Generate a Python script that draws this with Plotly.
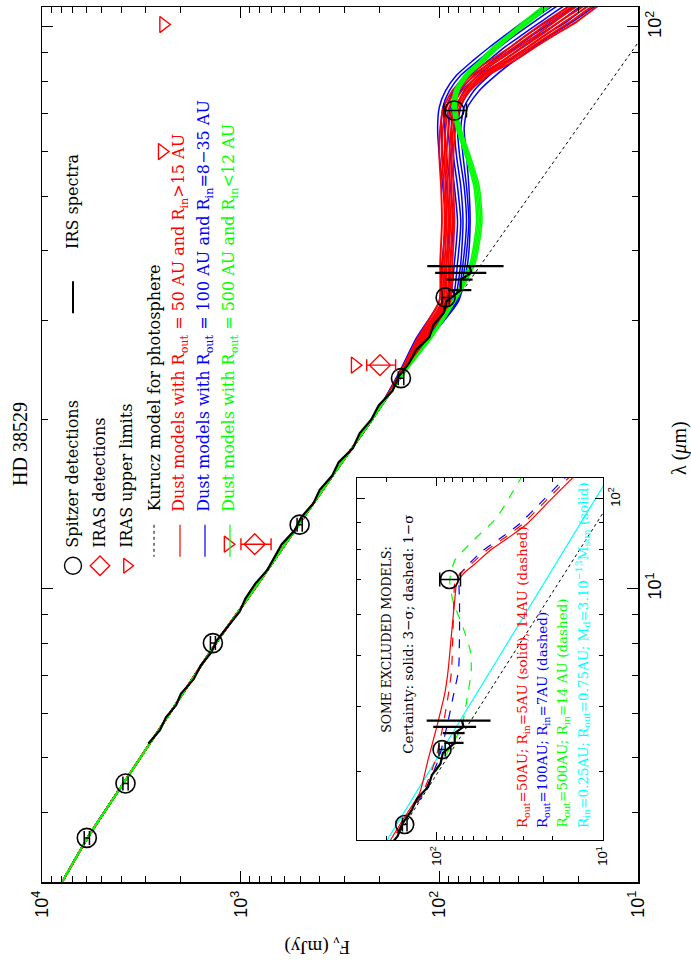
import plotly.graph_objects as go

# ---------------- data ----------------
# Kurucz photosphere
phot_lam = [3.0, 3.6, 4.5, 5.8, 8.0, 10, 13, 16, 20, 24, 30, 35, 40, 50, 60, 70, 80, 90, 100, 110, 120]
phot_F = [7940, 5900, 3900, 2420, 1330, 850, 510, 340, 218, 152, 97.5, 71.5, 55, 35.2, 24.5, 18, 13.8, 10.9, 8.8, 7.3, 6.1]

# dust models: common short-wavelength part (photospheric) + individual long-wavelength part
model_lam_short = [3.0, 3.6, 4.5, 5.8, 8.0, 10, 13, 16, 20]
model_F_short = [7940, 5900, 3900, 2420, 1330, 850, 510, 340, 218]
model_lam_long = [24, 28, 32.5, 38, 45, 52, 59, 66, 72, 77, 82, 87, 92, 97, 102, 108, 115]

red_models = [
    [160, 128, 100, 99, 97, 98, 100, 99, 95, 86, 72, 56, 44, 36, 29.5, 23, 17.5],
    [158, 125, 97, 96, 94, 95, 97, 96, 92, 83, 69, 53, 42, 34, 28, 22, 16.5],
    [157, 123, 95, 94, 92, 93, 94, 93, 89, 80, 66, 51, 40, 32, 26.5, 21, 15.5],
    [156, 121, 93, 92, 90, 91, 92, 90, 86, 77, 63, 48, 38, 30.5, 25, 19.5, 14.5],
    [155, 119, 91, 90, 88, 89, 89, 87, 83, 74, 61, 46, 36, 29, 23.5, 18.5, 14],
    [155, 118, 89, 88, 86, 87, 87, 85, 81, 72, 59, 44, 34.5, 27.5, 22, 17.5, 13],
    [154, 116, 88, 86, 84, 85, 85, 83, 79, 70, 57, 42, 33, 26, 20.5, 16.5, 12.5],
]
blue_models = [
    [162, 130, 100, 97, 93, 96, 100, 102, 100, 93, 82, 68, 56, 46, 38, 30, 23],
    [160, 126, 96, 92, 89, 92, 96, 98, 96, 89, 78, 64, 53, 43, 35.5, 28, 21.5],
    [158, 122, 92, 88, 85, 88, 92, 94, 92, 85, 74, 61, 50, 41, 33.5, 26.5, 20],
    [157, 119, 89, 84, 81, 84, 88, 90, 88, 81, 70, 57, 47, 38, 31, 24.5, 18.5],
    [156, 117, 86, 81, 78, 81, 85, 87, 85, 78, 67, 54, 44, 36, 29, 23, 17.5],
    [155, 115, 84, 78, 76, 78, 82, 84, 82, 75, 64, 51, 41, 33.5, 27, 21.5, 16.5],
    [154, 113, 82, 76, 73, 75, 79, 81, 78, 71, 60, 48, 38.5, 31, 25, 20, 15],
    [154, 112, 81, 74, 71, 73, 76, 78, 75, 67, 56, 45, 36, 29, 23, 18.5, 14],
    [153, 111, 80, 72, 70, 71, 73, 75, 72, 63, 52, 42, 33.5, 27, 21.5, 17, 13],
]
green_models = [
    [154, 112, 86, 70, 65, 67, 74, 82, 86, 84, 75, 63, 54, 45, 38, 31, 25],
    [154, 111, 85, 69, 64, 66, 73, 81, 85, 83, 74, 62, 53, 44, 37, 30, 24],
    [153, 110, 84, 68, 63, 65, 72, 80, 84, 82, 73, 61, 52, 43, 36, 29.5, 23.5],
    [153, 110, 84, 67, 62, 64, 71, 79, 83, 81, 72, 60, 51, 42.5, 35.5, 29, 23],
    [153, 109, 83, 66, 61, 63, 70, 78, 82, 80, 71, 59, 50, 42, 35, 28.5, 22.5],
]

# IRS spectrum
irs_lam = [5.3, 5.6, 5.9, 6.2, 6.5, 6.9, 7.3, 7.7, 8.1, 8.6, 9.1, 9.6, 10.2, 10.8, 11.4, 12.0,
           12.7, 13.4, 14.2, 15.0, 15.9, 16.8, 17.8, 18.9, 20.0, 21.2, 22.5, 23.8, 25.2, 26.6,
           28.0, 29.5, 31.0, 32.5, 34.0, 35.5, 36.5, 37.5]
irs_F = [2914, 2548, 2378, 2113, 2001, 1724, 1588, 1406, 1316, 1151, 1012, 947, 846, 734, 674, 621,
         535, 496, 430, 400, 346, 321, 272, 252, 220, 202, 172, 161, 142, 131,
         112.5, 107, 95, 92, 78, 78, 69, 70.5]
irs_tail_lam = [34.0, 35.5, 36.5, 37.5]
irs_tail_F = [78, 78, 69, 70.5]
irs_tail_err_hi = [12, 14, 36, 44.5]
irs_tail_err_lo = [9, 10, 11, 23]

# Spitzer photometry
sp_lam = [3.6, 4.5, 8.0, 13.0, 23.7, 33.0, 71.0]
sp_F = [5950, 3800, 1380, 505, 156, 93, 84]
sp_err = [180, 115, 40, 15, 5, 4, 11]

# IRAS
iras_lam = [12.0, 25.0]
iras_F = [850, 199]
iras_err = [147, 33]
iras_ul_lam = [12.0, 25.0, 60.0, 101.0]
iras_ul_F = [1160, 266, 2490, 2450]

# inset: excluded models
inset_lam = [20, 22, 24.2, 27.2, 31.5, 36.5, 42.3, 46.8, 55.1, 63.8, 68.7, 71.7, 75, 79.5, 84, 89.4, 100, 110, 115]
red_solid_F = [235, 192, 160, 127, 113, 100, 89.5, 85.5, 81.5, 78, 76, 69.5, 59, 48, 37.5, 28.8, 20.4, 15.1, 13.2]
red_dashed_F = [230, 188, 156, 122, 102, 92, 85, 81.5, 80, 79, 78, 73, 62, 50.5, 39.5, 30.5, 21.5, 16, 14]
blue_dashed_F = [228, 186, 155, 120, 98, 87, 79, 74, 73, 73, 73.5, 72, 64, 53, 41.5, 32, 22.5, 16.8, 14.6]
green_dashed_lam = [20, 22, 24.2, 27.2, 31.5, 36.5, 42.3, 46.8, 51.2, 56.6, 63.8, 69.6, 76.1, 83.1, 92.1, 100, 110, 115]
green_dashed_F = [225, 184, 154, 122, 92, 71, 65, 62, 63, 69.5, 80, 83.5, 78, 60.4, 43.6, 37, 30.9, 27.5]
cyan_lam = [20, 22, 30, 40, 50, 60, 70, 80, 90, 100, 110, 115]
cyan_F = [245, 201, 111, 64, 41.7, 29.4, 21.9, 16.9, 13.5, 11.0, 9.2, 8.5]

inset_sp_lam = [23.7, 33.0, 70.0]
inset_sp_F = [156, 93, 84]
inset_sp_err = [5, 4, 12]

# axis ticks
main_F_ticks = [10, 100, 1000, 10000]
main_F_ticktext = ["10<sup>1</sup>", "10<sup>2</sup>", "10<sup>3</sup>", "10<sup>4</sup>"]
main_lam_ticks = [10, 100]
main_lam_ticktext = ["10<sup>1</sup>", "10<sup>2</sup>"]
inset_F_ticks = [10, 100]
inset_F_ticktext = ["10<sup>1</sup>", "10<sup>2</sup>"]
inset_lam_ticks = [100]
inset_lam_ticktext = ["10<sup>2</sup>"]

# ---------------- layout helpers ----------------
FW, FH = 691, 961
L, R, T, B = 42, 638, 5, 882


def px(x):
    return (x - L) / (R - L)


def py(y):
    return (B - y) / (B - T)


RED, BLUE, GREEN, CYAN = "#ff0000", "#0000ff", "#00ff00", "#00ffff"
SERIF = "DejaVu Serif"
TSERIF = "Liberation Serif"
SANS = "Liberation Sans"


def minor_decades(lo, hi):
    return [m * 10 ** e for e in range(lo, hi) for m in range(2, 10)]


fig = go.Figure()

# ---------------- main panel ----------------
fig.add_trace(go.Scatter(x=phot_F, y=phot_lam, mode="lines",
                         line=dict(color="black", width=1, dash="dot"), xaxis="x", yaxis="y"))
lam_models = model_lam_short + model_lam_long
for fam, col, w in ((blue_models, BLUE, 1.5), (red_models, RED, 1.9), (green_models, GREEN, 1.5)):
    for curve in fam:
        fig.add_trace(go.Scatter(x=model_F_short + curve, y=lam_models, mode="lines",
                                 line=dict(color=col, width=w, shape="spline", smoothing=0.6),
                                 xaxis="x", yaxis="y"))
fig.add_trace(go.Scatter(x=irs_F, y=irs_lam, mode="lines", line=dict(color="black", width=2.2),
                         xaxis="x", yaxis="y"))
fig.add_trace(go.Scatter(x=irs_tail_F, y=irs_tail_lam, mode="markers",
                         marker=dict(size=2, color="black"),
                         error_x=dict(type="data", symmetric=False, array=irs_tail_err_hi,
                                      arrayminus=irs_tail_err_lo, color="black", thickness=2.2, width=0),
                         xaxis="x", yaxis="y"))
fig.add_trace(go.Scatter(x=sp_F, y=sp_lam, mode="markers",
                         marker=dict(symbol="circle-open", size=19, color="black", line=dict(width=1.6)),
                         error_x=dict(type="data", array=sp_err, color="black", thickness=1.5, width=7),
                         xaxis="x", yaxis="y"))
fig.add_trace(go.Scatter(x=iras_F, y=iras_lam, mode="markers",
                         marker=dict(symbol="diamond-open", size=16, color=RED, line=dict(width=1.4)),
                         error_x=dict(type="data", array=iras_err, color=RED, thickness=1.4, width=6),
                         xaxis="x", yaxis="y"))
fig.add_trace(go.Scatter(x=iras_ul_F, y=iras_ul_lam, mode="markers",
                         marker=dict(symbol="triangle-right-open", size=14, color=RED, line=dict(width=1.4)),
                         xaxis="x", yaxis="y"))

# ---------------- inset ----------------
fig.add_trace(go.Scatter(x=phot_F, y=phot_lam, mode="lines",
                         line=dict(color="black", width=1, dash="dot"), xaxis="x2", yaxis="y2"))
fig.add_trace(go.Scatter(x=cyan_F, y=cyan_lam, mode="lines", line=dict(color=CYAN, width=1.2),
                         xaxis="x2", yaxis="y2"))
fig.add_trace(go.Scatter(x=green_dashed_F, y=green_dashed_lam, mode="lines",
                         line=dict(color=GREEN, width=1.2, dash="dash", shape="spline", smoothing=0.6),
                         xaxis="x2", yaxis="y2"))
fig.add_trace(go.Scatter(x=blue_dashed_F, y=inset_lam, mode="lines",
                         line=dict(color=BLUE, width=1.2, dash="dash", shape="spline", smoothing=0.6),
                         xaxis="x2", yaxis="y2"))
fig.add_trace(go.Scatter(x=red_dashed_F, y=inset_lam, mode="lines",
                         line=dict(color=RED, width=1.2, dash="dash", shape="spline", smoothing=0.6),
                         xaxis="x2", yaxis="y2"))
fig.add_trace(go.Scatter(x=red_solid_F, y=inset_lam, mode="lines",
                         line=dict(color=RED, width=1.2, shape="spline", smoothing=0.6),
                         xaxis="x2", yaxis="y2"))
fig.add_trace(go.Scatter(x=irs_F, y=irs_lam, mode="lines", line=dict(color="black", width=2.2),
                         xaxis="x2", yaxis="y2"))
fig.add_trace(go.Scatter(x=irs_tail_F, y=irs_tail_lam, mode="markers",
                         marker=dict(size=2, color="black"),
                         error_x=dict(type="data", symmetric=False, array=irs_tail_err_hi,
                                      arrayminus=irs_tail_err_lo, color="black", thickness=2.2, width=0),
                         xaxis="x2", yaxis="y2"))
fig.add_trace(go.Scatter(x=inset_sp_F, y=inset_sp_lam, mode="markers",
                         marker=dict(symbol="circle-open", size=18, color="black", line=dict(width=1.6)),
                         error_x=dict(type="data", array=inset_sp_err, color="black", thickness=1.5, width=7),
                         xaxis="x2", yaxis="y2"))

# ---------------- legend keys (pixel overlay axis) ----------------
key_marks = [(73, 565, "circle-open", "black", 17), (100, 565, "diamond-open", RED, 15),
             (127, 565, "triangle-right-open", RED, 13)]
for kx, ky, sym, col, sz in key_marks:
    fig.add_trace(go.Scatter(x=[kx], y=[ky], mode="markers",
                             marker=dict(symbol=sym, size=sz, color=col, line=dict(width=1.4)),
                             xaxis="x3", yaxis="y3"))
key_lines = [(73, 280, 312, "black", "solid", 2), (154, 524, 556, "black", "dot", 1),
             (180, 524, 556, RED, "solid", 1.2), (205, 524, 556, BLUE, "solid", 1.2),
             (230, 524, 556, GREEN, "solid", 1.2)]
for kx, y0, y1, col, dash, w in key_lines:
    fig.add_trace(go.Scatter(x=[kx, kx], y=[y0, y1], mode="lines",
                             line=dict(color=col, width=w, dash=dash), xaxis="x3", yaxis="y3"))


def axstyle(tv, tt, minor, fs, tl, ml, lw):
    return dict(type="log", showline=True, linecolor="black", linewidth=lw, mirror="ticks",
                ticks="inside", ticklen=tl, tickwidth=1, tickcolor="black",
                tickmode="array", tickvals=tv, ticktext=tt, tickangle=-90,
                tickfont=dict(family=SANS, size=fs, color="black"),
                showgrid=False, zeroline=False,
                minor=dict(tickmode="array", tickvals=minor, ticks="inside", ticklen=ml,
                           tickwidth=1, tickcolor="black", showgrid=False))


xa = axstyle(main_F_ticks, main_F_ticktext, minor_decades(1, 4), 18, 11, 6, 1.5)
xa.update(range=[4, 1], domain=[0, 1], anchor="y")
ya = axstyle(main_lam_ticks, main_lam_ticktext, minor_decades(0, 2), 18, 11, 6, 1.5)
ya.update(range=[0.4778, 2.0355], domain=[0, 1], anchor="x", side="right")
xa2 = axstyle(inset_F_ticks, inset_F_ticktext, minor_decades(1, 3), 13, 8, 4, 1)
xa2.update(range=[2.480, 1], domain=[px(357), px(603)], anchor="y2")
ya2 = axstyle(inset_lam_ticks, inset_lam_ticktext, minor_decades(1, 2), 13, 8, 4, 1)
ya2.update(range=[1.3448, 2.0402], domain=[py(840), py(477)], anchor="x2", side="right")

annotations = []


def txt(x, y, s, size, color="black", family=SERIF, angle=-90, xa_="center", ya_="bottom"):
    annotations.append(dict(x=px(x), y=py(y), xref="paper", yref="paper", text=s, showarrow=False,
                            textangle=angle, xanchor=xa_, yanchor=ya_,
                            font=dict(family=family, size=size, color=color)))


# titles
txt(20, 443, "HD 38529", 20, family=TSERIF, ya_="middle")
txt(680, 447, "λ (<i>μ</i>m)", 20, family=TSERIF, ya_="middle")
txt(317, 946, "F<sub>ν</sub> (mJy)", 19, family=TSERIF, angle=180, ya_="middle")

# legend texts
txt(73, 549, "Spitzer detections", 16)
txt(73, 250, "IRS spectra", 16)
txt(100, 549, "IRAS detections", 16)
txt(127, 549, "IRAS upper limits", 16)
txt(154, 513, "Kurucz model for photosphere", 16)
txt(180, 513, "Dust models with R<sub>out</sub> = 50 AU and R<sub>in</sub>&gt;15 AU", 16, RED)
txt(205, 513, "Dust models with R<sub>out</sub> = 100 AU and R<sub>in</sub>=8−35 AU", 16, BLUE)
txt(230, 513, "Dust models with R<sub>out</sub> = 500 AU and R<sub>in</sub>&lt;12 AU", 16, GREEN)

# inset texts
txt(387, 735, "SOME EXCLUDED MODELS:", 12.5)
txt(408, 755, "Certainty: solid: 3−σ; dashed: 1−σ", 13.5)
txt(523, 830, "R<sub>out</sub>=50AU; R<sub>in</sub>=5AU (solid), 14AU (dashed)", 13.5, RED)
txt(543, 830, "R<sub>out</sub>=100AU; R<sub>in</sub>=7AU (dashed)", 13.5, BLUE)
txt(563, 830, "R<sub>out</sub>=500AU; R<sub>in</sub>=14 AU (dashed)", 13.5, GREEN)
txt(583, 830, "R<sub>in</sub>=0.25AU; R<sub>out</sub>=0.75AU; M<sub>d</sub>=3.10<sup>−13</sup>M<sub>sun</sub> (solid)",
    13.5, CYAN)

fig.update_layout(
    width=FW, height=FH, margin=dict(l=L, r=FW - R, t=T, b=FH - B, pad=0),
    paper_bgcolor="white", plot_bgcolor="white", showlegend=False,
    xaxis=xa, yaxis=ya, xaxis2=xa2, yaxis2=ya2,
    xaxis3=dict(range=[L, R], anchor="y3", overlaying="x", visible=False),
    yaxis3=dict(range=[B, T], anchor="x3", overlaying="y", visible=False),
    annotations=annotations,
)

fig.write_html("out.html", config={"displayModeBar": False, "staticPlot": True},
               post_script="document.body.style.margin='0';document.body.style.overflow='hidden';")
